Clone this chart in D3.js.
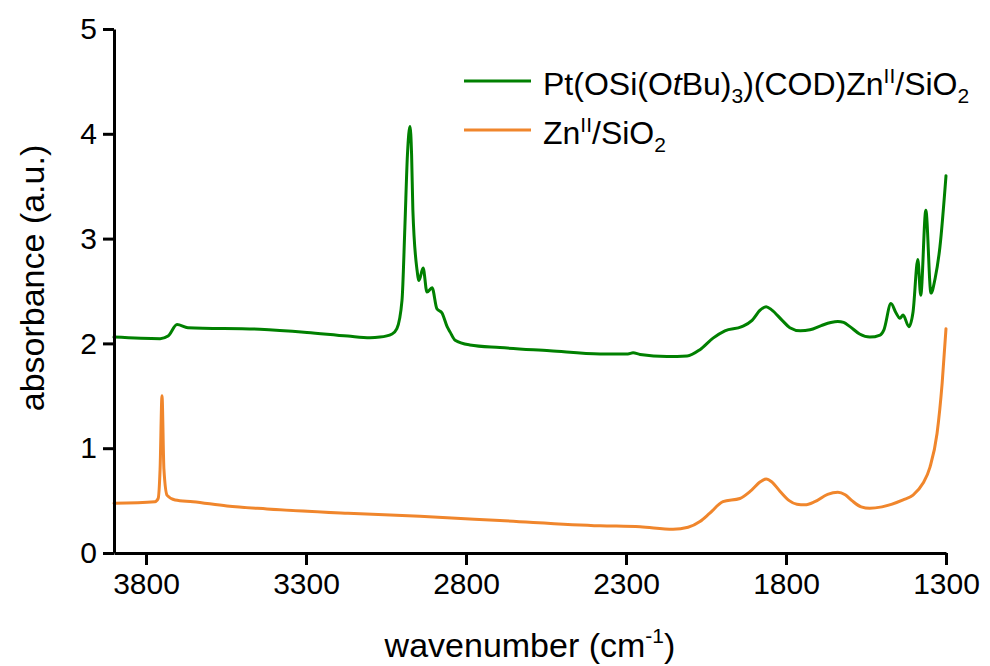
<!DOCTYPE html>
<html>
<head>
<meta charset="utf-8">
<script src="https://cdn.jsdelivr.net/npm/d3@7"></script>
<style>
  html, body { margin: 0; padding: 0; background: #fff; }
  svg text { font-family: "Liberation Sans", Arial, Helvetica, sans-serif; fill: #000; }
</style>
</head>
<body>
<svg id="chart" width="990" height="666"></svg>
<script>
// ---- data (wavenumber cm^-1, absorbance a.u.) ----
const ptWavenumber = [3900, 3756, 3731, 3703, 3669, 3444, 3297, 3169, 3100, 3069, 3031, 3016, 3000, 2991, 2983, 2975, 2970, 2966, 2953, 2947, 2934, 2922, 2906, 2891, 2875, 2859, 2850, 2834, 2788, 2694, 2538, 2381, 2294, 2278, 2256, 2172, 2109, 2069, 2028, 1991, 1938, 1906, 1880, 1862, 1845, 1812, 1788, 1755, 1725, 1690, 1660, 1638, 1620, 1600, 1570, 1538, 1506, 1494, 1472, 1456, 1444, 1434, 1416, 1403, 1388, 1379, 1363, 1347, 1334, 1319, 1300];
const ptAbsorbance = [2.06, 2.045, 2.07, 2.18, 2.15, 2.135, 2.105, 2.07, 2.055, 2.06, 2.09, 2.14, 2.41, 3.11, 3.8, 4.07, 3.8, 3.27, 2.70, 2.60, 2.72, 2.49, 2.53, 2.33, 2.29, 2.16, 2.11, 2.03, 1.985, 1.96, 1.93, 1.90, 1.90, 1.91, 1.895, 1.875, 1.88, 1.94, 2.05, 2.12, 2.16, 2.22, 2.32, 2.35, 2.32, 2.22, 2.15, 2.12, 2.13, 2.17, 2.20, 2.21, 2.20, 2.16, 2.09, 2.06, 2.08, 2.13, 2.38, 2.29, 2.24, 2.27, 2.16, 2.3, 2.80, 2.46, 3.27, 2.48, 2.62, 2.92, 3.60];

const znWavenumber = [3900, 3772, 3762, 3756, 3750, 3744, 3734, 3709, 3653, 3547, 3422, 3169, 2944, 2694, 2381, 2256, 2153, 2106, 2069, 2038, 1997, 1944, 1913, 1880, 1862, 1845, 1819, 1790, 1766, 1741, 1710, 1670, 1638, 1615, 1594, 1565, 1538, 1500, 1434, 1403, 1372, 1350, 1328, 1312, 1300];
const znAbsorbance = [0.474, 0.49, 0.52, 0.8, 1.50, 0.8, 0.55, 0.506, 0.49, 0.448, 0.42, 0.379, 0.35, 0.31, 0.26, 0.25, 0.226, 0.245, 0.30, 0.38, 0.49, 0.52, 0.585, 0.68, 0.706, 0.68, 0.59, 0.50, 0.465, 0.46, 0.49, 0.56, 0.58, 0.555, 0.50, 0.44, 0.426, 0.44, 0.506, 0.553, 0.665, 0.82, 1.14, 1.62, 2.14];

const xTickValues = [3800, 3300, 2800, 2300, 1800, 1300];
const yTickValues = [0, 1, 2, 3, 4, 5];
const seriesColors = ["#008000", "#f0862c"];

// ---- layout ----
const margin = { top: 29, right: 44, bottom: 113, left: 114 };
const W = 990, H = 666;
const iw = W - margin.left - margin.right;
const ih = H - margin.top - margin.bottom;

const svg = d3.select("#chart");
const g = svg.append("g").attr("transform", `translate(${margin.left},${margin.top})`);

const x = d3.scaleLinear().domain([3900, 1300]).range([0, iw]);
const y = d3.scaleLinear().domain([0, 5]).range([ih, 0]);

// ---- lines ----
const line = d3.line()
  .x(d => x(d[0]))
  .y(d => y(d[1]))
  .curve(d3.curveMonotoneX);

const series = [
  d3.zip(ptWavenumber, ptAbsorbance),
  d3.zip(znWavenumber, znAbsorbance)
];

series.forEach((data, i) => {
  g.append("path")
    .datum(data)
    .attr("fill", "none")
    .attr("stroke", seriesColors[i])
    .attr("stroke-width", 3)
    .attr("stroke-linejoin", "round")
    .attr("stroke-linecap", "round")
    .attr("d", line);
});

// ---- axes ----
const fs = 30;
const xAxis = g.append("g")
  .attr("transform", `translate(0,${ih})`)
  .call(d3.axisBottom(x).tickValues(xTickValues).tickSize(12).tickPadding(8).tickSizeOuter(0).tickFormat(d3.format("d")));
const yAxis = g.append("g")
  .call(d3.axisLeft(y).tickValues(yTickValues).tickSize(11).tickPadding(6).tickSizeOuter(0).tickFormat(d3.format("d")));

[xAxis, yAxis].forEach(ax => {
  ax.attr("font-family", null).attr("font-size", null);
  ax.select(".domain").attr("stroke", "#000").attr("stroke-width", 3);
  ax.selectAll(".tick line").attr("stroke", "#000").attr("stroke-width", 3);
  ax.selectAll(".tick text").style("font-size", fs + "px").attr("fill", "#000");
});

// ---- axis titles ----
const xt = svg.append("text")
  .attr("x", margin.left + iw / 2)
  .attr("y", 657)
  .attr("text-anchor", "middle")
  .style("font-size", "34px");
xt.append("tspan").text("wavenumber (cm");
xt.append("tspan").attr("dy", -14).style("font-size", "21px").text("-1");
xt.append("tspan").attr("dy", 14).text(")");

svg.append("text")
  .attr("transform", `translate(44,278) rotate(-90)`)
  .attr("text-anchor", "middle")
  .style("font-size", "34px")
  .text("absorbance (a.u.)");

// ---- legend ----
const legend = svg.append("g");
const legendRows = [81, 130];
legendRows.forEach((ly, i) => {
  legend.append("line")
    .attr("x1", 464).attr("x2", 531)
    .attr("y1", ly).attr("y2", ly)
    .attr("stroke", seriesColors[i])
    .attr("stroke-width", 3);
});

const lfs = 32, sub = 21;
const t1 = legend.append("text").attr("x", 543).attr("y", legendRows[0] + 14).style("font-size", lfs + "px");
t1.append("tspan").text("Pt(OSi(O");
t1.append("tspan").style("font-style", "italic").text("t");
t1.append("tspan").text("Bu)");
t1.append("tspan").attr("dy", 8).style("font-size", sub + "px").text("3");
t1.append("tspan").attr("dy", -8).text(")(COD)Zn");
t1.append("tspan").attr("dy", -12).style("font-size", sub + "px").text("II");
t1.append("tspan").attr("dy", 12).text("/SiO");
t1.append("tspan").attr("dy", 8).style("font-size", sub + "px").text("2");

const t2 = legend.append("text").attr("x", 543).attr("y", legendRows[1] + 14).style("font-size", lfs + "px");
t2.append("tspan").text("Zn");
t2.append("tspan").attr("dy", -12).style("font-size", sub + "px").text("II");
t2.append("tspan").attr("dy", 12).text("/SiO");
t2.append("tspan").attr("dy", 8).style("font-size", sub + "px").text("2");
</script>
</body>
</html>
